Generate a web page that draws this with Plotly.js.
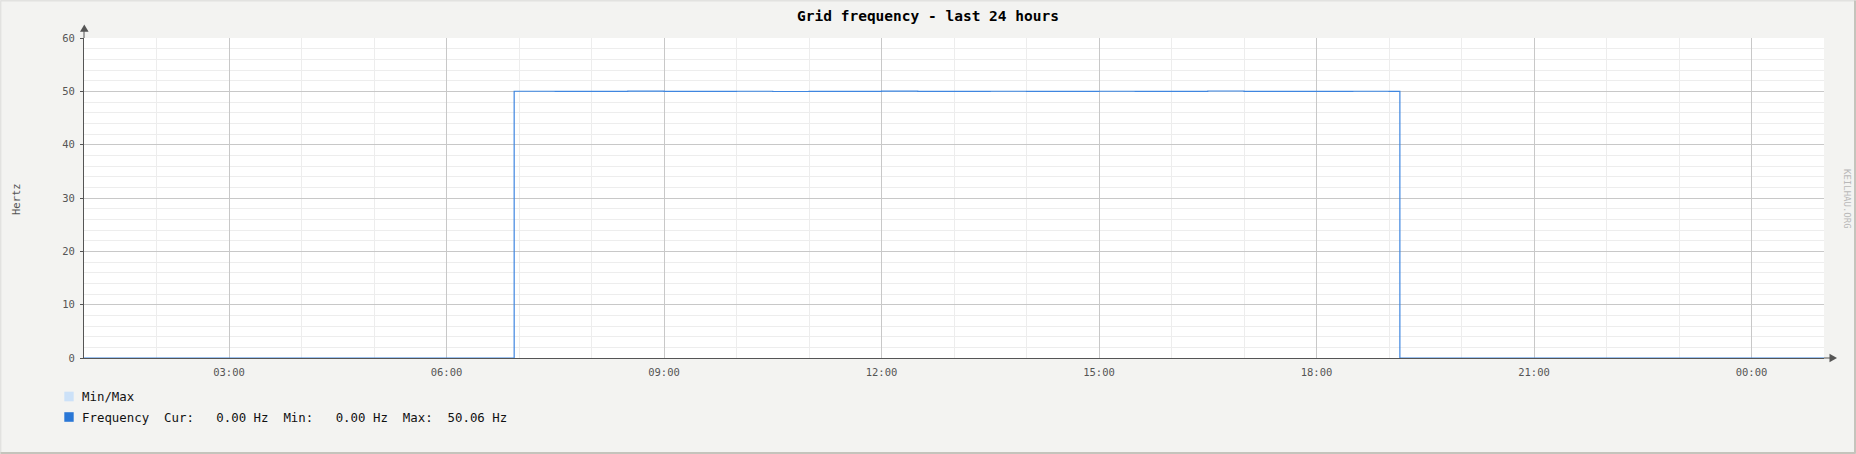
<!DOCTYPE html>
<html>
<head>
<meta charset="utf-8">
<script src="https://cdn.plot.ly/plotly-3.0.1.min.js"></script>
<style>
  html, body { margin: 0; padding: 0; background: #f3f3f1; }
  #chart { width: 1856px; height: 454px; }
</style>
</head>
<body>
<div id="chart"></div>
<script>
// ---- data ----
const chartTitle = "Grid frequency - last 24 hours";
const yTitle = "Hertz";
const watermark = "KEILHAU.ORG";
const xRange = ["2024-05-01 01:00", "2024-05-02 01:00"];
const times = [
  "2024-05-01 01:00", "2024-05-01 03:00", "2024-05-01 05:00", "2024-05-01 06:56",
  "2024-05-01 07:30", "2024-05-01 08:00", "2024-05-01 08:30", "2024-05-01 09:00",
  "2024-05-01 09:30", "2024-05-01 10:00", "2024-05-01 10:30", "2024-05-01 11:00",
  "2024-05-01 11:30", "2024-05-01 12:00", "2024-05-01 12:30", "2024-05-01 13:00",
  "2024-05-01 13:30", "2024-05-01 14:00", "2024-05-01 14:30", "2024-05-01 15:00",
  "2024-05-01 15:30", "2024-05-01 16:00", "2024-05-01 16:30", "2024-05-01 17:00",
  "2024-05-01 17:30", "2024-05-01 18:00", "2024-05-01 18:30", "2024-05-01 19:00",
  "2024-05-01 19:09", "2024-05-01 21:00", "2024-05-01 23:00", "2024-05-02 01:00"
];
const freq = [
  0, 0, 0, 50.02,
  49.98, 50.01, 50.03, 49.99,
  50.00, 50.02, 49.97, 50.01,
  50.00, 50.03, 49.98, 50.01,
  50.02, 49.99, 50.00, 50.02,
  49.98, 50.01, 50.06, 49.99,
  50.01, 50.00, 50.02, 49.98,
  0, 0, 0, 0
];
const freqMin = [
  0, 0, 0, 49.96,
  49.93, 49.95, 49.97, 49.94,
  49.95, 49.96, 49.92, 49.95,
  49.94, 49.97, 49.93, 49.95,
  49.96, 49.94, 49.95, 49.96,
  49.93, 49.95, 49.99, 49.94,
  49.95, 49.94, 49.96, 49.93,
  0, 0, 0, 0
];
const freqMax = [
  0, 0, 0, 50.05,
  50.02, 50.04, 50.06, 50.03,
  50.04, 50.05, 50.01, 50.04,
  50.03, 50.06, 50.02, 50.04,
  50.05, 50.03, 50.04, 50.05,
  50.02, 50.04, 50.06, 50.03,
  50.04, 50.03, 50.05, 50.02,
  0, 0, 0, 0
];
const legendLabels = ["Min/Max", "Frequency  Cur:   0.00 Hz  Min:   0.00 Hz  Max:  50.06 Hz"];
const legendColors = ["#cce1f8", "#2a77d6"];

// ---- drawing ----
const W = 1856, H = 454;
const M = {l: 84, r: 32, t: 38, b: 96};
const PW = W - M.l - M.r, PH = H - M.t - M.b;
const px = x => (x - M.l) / PW;          // pixel x -> paper x
const py = y => (M.t + PH - y) / PH;     // pixel y -> paper y
const nb = s => s.replace(/ /g, "\u00A0");
const mono = "DejaVu Sans Mono, monospace";

const traces = [
  {x: times, y: freqMin, type: "scatter", mode: "lines", line: {shape: "hv", width: 0, color: legendColors[0]},
   showlegend: false, hoverinfo: "skip"},
  {x: times, y: freqMax, type: "scatter", mode: "lines", line: {shape: "hv", width: 0, color: legendColors[0]},
   fill: "tonexty", fillcolor: legendColors[0], showlegend: false, hoverinfo: "skip"},
  {x: times, y: freq, type: "scatter", mode: "lines", line: {shape: "hv", width: 1.2, color: "#3f86e0"},
   showlegend: false}
];

const shapes = [
  // outer frame
  {type: "line", xref: "paper", yref: "paper", x0: px(0.5), x1: px(1855.5), y0: py(0.8), y1: py(0.8), line: {color: "#e2e2e0", width: 1.6}},
  {type: "line", xref: "paper", yref: "paper", x0: px(0.6), x1: px(0.6), y0: py(0.5), y1: py(453.5), line: {color: "#e2e2e0", width: 1.6}},
  {type: "line", xref: "paper", yref: "paper", x0: px(1855), x1: px(1855), y0: py(0.5), y1: py(453.5), line: {color: "#c4c4bc", width: 2}},
  {type: "line", xref: "paper", yref: "paper", x0: px(0.5), x1: px(1855.5), y0: py(453), y1: py(453), line: {color: "#c4c4bc", width: 2}},
  // y axis arrow
  {type: "line", xref: "paper", yref: "paper", x0: 0, x1: 0, y0: 1, y1: py(31), line: {color: "#555555", width: 1}},
  {type: "path", xref: "paper", yref: "paper",
   path: `M ${px(80)} ${py(31.7)} L ${px(88.6)} ${py(31.7)} L ${px(84.3)} ${py(24.5)} Z`,
   fillcolor: "#555555", line: {width: 0}},
  // x axis arrow
  {type: "line", xref: "paper", yref: "paper", x0: 1, x1: px(1830), y0: 0, y1: 0, line: {color: "#555555", width: 1}},
  {type: "path", xref: "paper", yref: "paper",
   path: `M ${px(1829.5)} ${py(353.7)} L ${px(1829.5)} ${py(362.3)} L ${px(1837)} ${py(358)} Z`,
   fillcolor: "#555555", line: {width: 0}}
];

const annotations = [
  {text: yTitle, xref: "paper", yref: "paper", x: px(15.5), y: py(199.5), showarrow: false,
   textangle: -90, xanchor: "center", yanchor: "middle", font: {family: mono, size: 10.5, color: "#555555"}},
  {text: watermark, xref: "paper", yref: "paper", x: px(1847), y: py(199), showarrow: false,
   textangle: 90, xanchor: "center", yanchor: "middle", font: {family: mono, size: 9, color: "#b8b8b8"}}
];
const legendY = [396.5, 417];
legendLabels.forEach((lab, i) => {
  shapes.push({type: "rect", xref: "paper", yref: "paper", x0: px(64.3), x1: px(73.7),
    y0: py(legendY[i] - 4.8), y1: py(legendY[i] + 4.8), fillcolor: legendColors[i], line: {width: 0}});
  annotations.push({text: nb(lab), xref: "paper", yref: "paper", x: px(79.5), y: py(legendY[i]),
    showarrow: false, xanchor: "left", yanchor: "middle", font: {family: mono, size: 12.4, color: "#111111"}});
});

const layout = {
  width: W, height: H,
  margin: M,
  paper_bgcolor: "#f3f3f1",
  plot_bgcolor: "#ffffff",
  showlegend: false,
  title: {text: "<b>" + chartTitle + "</b>", x: 0.5, xref: "container", xanchor: "center",
          y: 1 - 16 / H, yref: "container", yanchor: "middle",
          font: {family: mono, size: 14.5, color: "#000000"}},
  xaxis: {
    type: "date", range: xRange, tick0: "2024-05-01 00:00", dtick: 3 * 3600000,
    tickformat: "%H:%M", showgrid: true, gridcolor: "#c8c8c8", gridwidth: 1,
    minor: {dtick: 3600000, showgrid: true, gridcolor: "#ededed", gridwidth: 1},
    showline: true, linecolor: "#555555", linewidth: 1, zeroline: false,
    ticks: "", ticklabelstandoff: 4,
    tickfont: {family: mono, size: 10.5, color: "#555555"}, fixedrange: true
  },
  yaxis: {
    range: [0, 60], dtick: 10, tick0: 0, showgrid: true, gridcolor: "#c8c8c8", gridwidth: 1,
    minor: {dtick: 2, showgrid: true, gridcolor: "#ededed", gridwidth: 1},
    showline: true, linecolor: "#555555", linewidth: 1, zeroline: false,
    ticks: "outside", ticklen: 3, tickcolor: "#555555", ticklabelstandoff: 3,
    tickfont: {family: mono, size: 10.5, color: "#555555"}, fixedrange: true
  },
  shapes: shapes,
  annotations: annotations
};

Plotly.newPlot("chart", traces, layout, {staticPlot: true, displayModeBar: false});
</script>
</body>
</html>
